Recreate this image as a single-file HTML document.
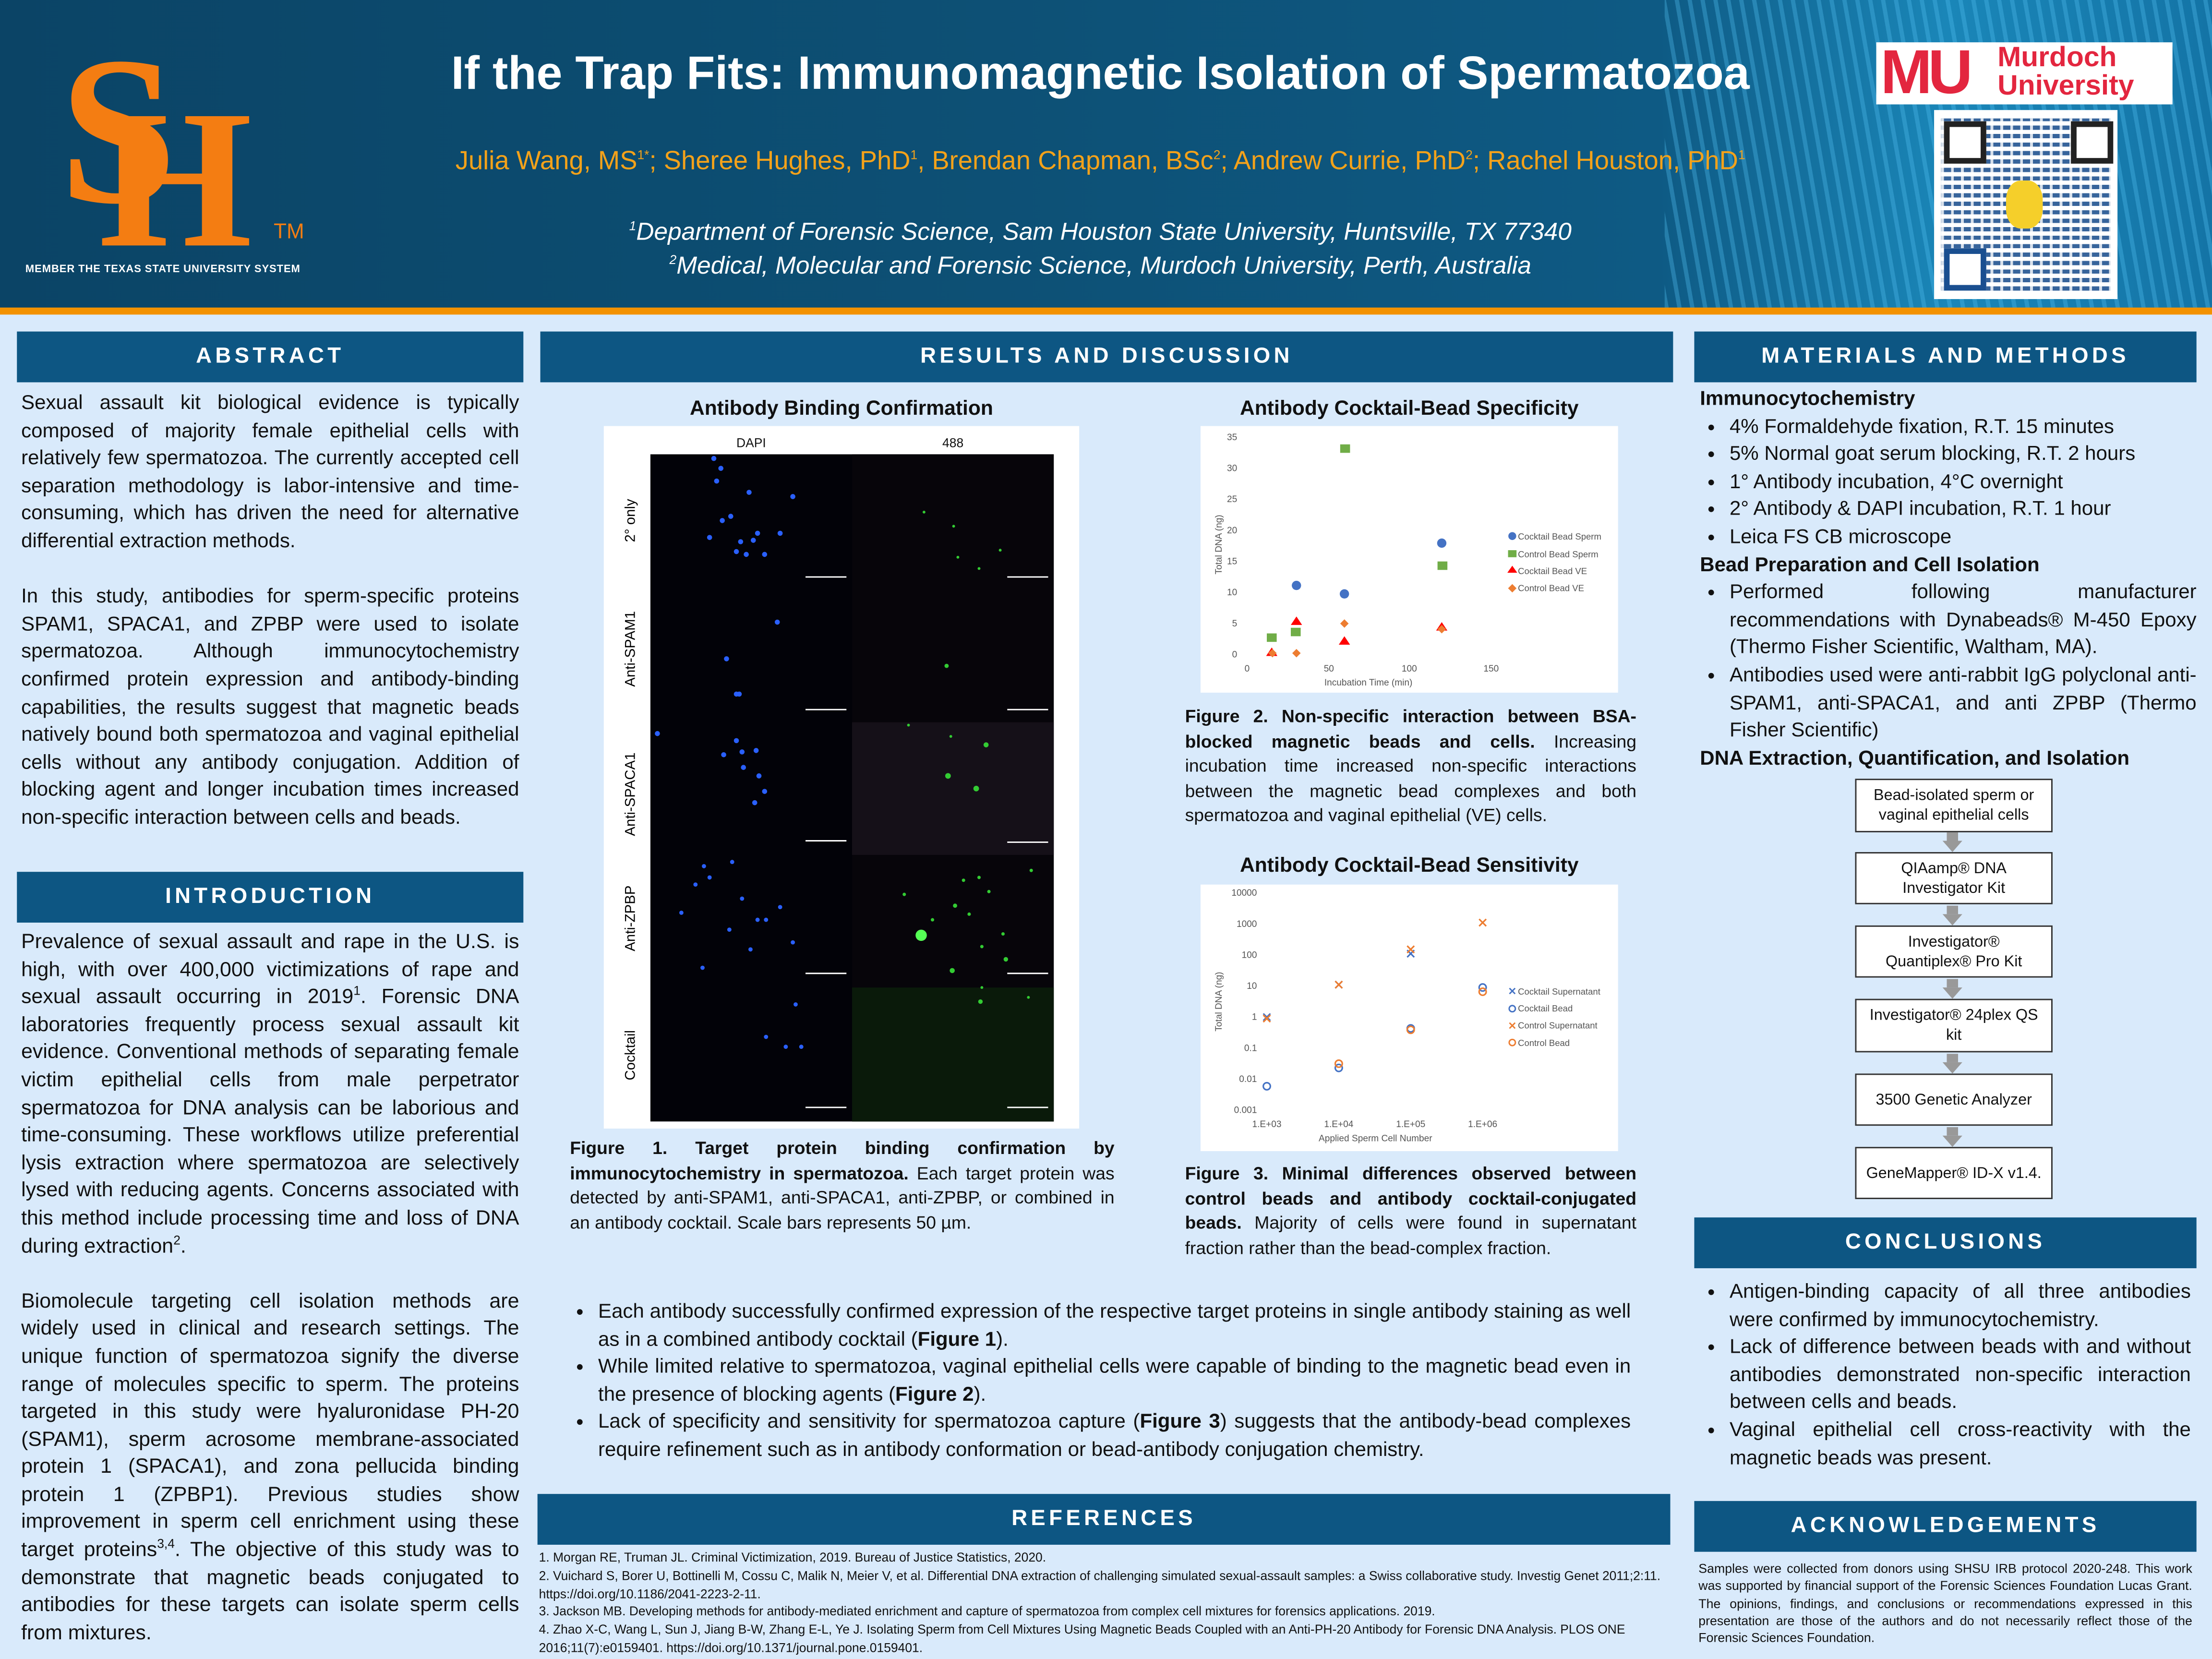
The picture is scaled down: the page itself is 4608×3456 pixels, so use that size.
<!DOCTYPE html>
<html><head><meta charset="utf-8">
<style>
html,body{margin:0;padding:0;width:4608px;height:3456px;overflow:hidden;background:#d9eafb}
#s{position:absolute;left:0;top:0;width:1568px;height:1176px;transform:scale(2.938776);transform-origin:0 0;font-family:"Liberation Sans",sans-serif;color:#111;background:#d9eafb}
.a{position:absolute}
.hd{position:absolute;background:#0d5683;color:#fff;font-weight:bold;font-size:15.5px;letter-spacing:2.5px;text-align:center;line-height:36px;height:36px}
.tx{position:absolute;font-size:14.3px;line-height:19.6px;text-align:justify}
.tx p{margin:0}
sup{font-size:9px;line-height:0}
ul{margin:0;padding-left:21px}
li{margin:0}
.fb{position:absolute;left:1315px;width:138px;border:1px solid #333;background:#fff;font-size:11px;text-align:center;line-height:14px;display:flex;align-items:center;justify-content:center}
.ar{position:absolute;left:1377px;width:0;height:0;border-left:7px solid transparent;border-right:7px solid transparent;border-top:8px solid #999}
.ar:before{content:"";position:absolute;left:-4px;top:-14px;width:8px;height:6px;background:#999}
</style></head><body><div id="s">
<div class="a" style="left:0;top:0;width:1568px;height:219px;background:linear-gradient(90deg,#0b4466 0%,#0d5075 45%,#0e5a84 75%,#1a86b8 88%,#1474a6 100%)"></div>
<div class="a" style="left:1180px;top:0;width:388px;height:219px;background:repeating-linear-gradient(80deg,rgba(80,190,240,.35) 0 3px,rgba(0,0,0,0) 3px 9px)"></div>
<div class="a" style="left:0;top:218px;width:1568px;height:5px;background:#f39200"></div>
<div class="a" style="left:42px;top:18px;font-family:'Liberation Serif',serif;font-size:150px;line-height:150px;color:#f47d12;font-weight:bold">S</div>
<div class="a" style="left:70px;top:58px;font-family:'Liberation Serif',serif;font-size:140px;line-height:140px;color:#f47d12;font-weight:bold">H</div>
<div class="a" style="left:194px;top:156px;color:#f47d12;font-size:15px">TM</div>
<div class="a" style="left:18px;top:186px;color:#fff;font-size:7.5px;font-weight:bold;letter-spacing:.3px">MEMBER THE TEXAS STATE UNIVERSITY SYSTEM</div>
<div class="a" style="left:260px;top:30px;width:1040px;text-align:center;color:#fff;font-weight:bold;font-size:33px;line-height:44px">If the Trap Fits: Immunomagnetic Isolation of Spermatozoa</div>
<div class="a" style="left:260px;top:101px;width:1040px;text-align:center;color:#f4a21a;font-size:18.5px;line-height:26px">Julia Wang, MS<sup>1*</sup>; Sheree Hughes, PhD<sup>1</sup>, Brendan Chapman, BSc<sup>2</sup>; Andrew Currie, PhD<sup>2</sup>; Rachel Houston, PhD<sup>1</sup></div>
<div class="a" style="left:260px;top:152px;width:1040px;text-align:center;color:#fff;font-style:italic;font-size:17.5px;line-height:24px"><sup>1</sup>Department of Forensic Science, Sam Houston State University, Huntsville, TX 77340<br><sup>2</sup>Medical, Molecular and Forensic Science, Murdoch University, Perth, Australia</div>
<div class="a" style="left:1330px;top:30px;width:210px;height:44px;background:#fff"></div>
<div class="a" style="left:1333px;top:28px;color:#e3263f;font-weight:bold;font-size:44px;line-height:48px;letter-spacing:-3px">MU</div>
<div class="a" style="left:1416px;top:31px;color:#e3263f;font-weight:bold;font-size:20px;line-height:20px">Murdoch<br>University</div>
<div class="a" style="left:1371px;top:78px;width:130px;height:134px;background:#fff"></div>
<div class="a" style="left:1376px;top:84px;width:120px;height:122px;background:repeating-linear-gradient(0deg,#154a8a 0 3px,#fff 3px 6px),#154a8a;opacity:.85"></div>
<div class="a" style="left:1376px;top:84px;width:120px;height:122px;background:repeating-linear-gradient(90deg,rgba(255,255,255,.8) 0 2px,transparent 2px 7px)"></div>
<div class="a" style="left:1378px;top:86px;width:22px;height:22px;border:4px solid #222;background:#fff"></div>
<div class="a" style="left:1468px;top:86px;width:22px;height:22px;border:4px solid #222;background:#fff"></div>
<div class="a" style="left:1378px;top:176px;width:22px;height:22px;border:4px solid #1a4f90;background:#fff"></div>
<div class="a" style="left:1422px;top:128px;width:26px;height:34px;background:#f5cf2a;border-radius:40%"></div>

<div class="hd" style="left:12px;top:235px;width:359px">ABSTRACT</div>
<div class="tx" style="left:15px;top:277px;width:353px">
<p>Sexual assault kit biological evidence is typically composed of majority female epithelial cells with relatively few spermatozoa. The currently accepted cell separation methodology is labor-intensive and time-consuming, which has driven the need for alternative differential extraction methods.</p><p>&nbsp;</p>
<p>In this study, antibodies for sperm-specific proteins SPAM1, SPACA1, and ZPBP were used to isolate spermatozoa. Although immunocytochemistry confirmed protein expression and antibody-binding capabilities, the results suggest that magnetic beads natively bound both spermatozoa and vaginal epithelial cells without any antibody conjugation. Addition of blocking agent and longer incubation times increased non-specific interaction between cells and beads.</p></div>
<div class="hd" style="left:12px;top:618px;width:359px">INTRODUCTION</div>
<div class="tx" style="left:15px;top:659px;width:353px;font-size:14.6px">
<p>Prevalence of sexual assault and rape in the U.S. is high, with over 400,000 victimizations of rape and sexual assault occurring in 2019<sup>1</sup>. Forensic DNA laboratories frequently process sexual assault kit evidence. Conventional methods of separating female victim epithelial cells from male perpetrator spermatozoa for DNA analysis can be laborious and time-consuming. These workflows utilize preferential lysis extraction where spermatozoa are selectively lysed with reducing agents. Concerns associated with this method include processing time and loss of DNA during extraction<sup>2</sup>.</p><p>&nbsp;</p>
<p>Biomolecule targeting cell isolation methods are widely used in clinical and research settings. The unique function of spermatozoa signify the diverse range of molecules specific to sperm. The proteins targeted in this study were hyaluronidase PH-20 (SPAM1), sperm acrosome membrane-associated protein 1 (SPACA1), and zona pellucida binding protein 1 (ZPBP1). Previous studies show improvement in sperm cell enrichment using these target proteins<sup>3,4</sup>. The objective of this study was to demonstrate that magnetic beads conjugated to antibodies for these targets can isolate sperm cells from mixtures.</p></div>

<div class="hd" style="left:383px;top:235px;width:803px">RESULTS AND DISCUSSION</div>
<div class="a" style="left:428px;top:282px;width:337px;text-align:center;font-weight:bold;font-size:14.5px">Antibody Binding Confirmation</div>
<div class="a" style="left:428px;top:302px;width:337px;height:498px;background:#fff"></div>
<div class="a" style="left:461px;top:309px;width:143px;text-align:center;font-size:9px">DAPI</div>
<div class="a" style="left:604px;top:309px;width:143px;text-align:center;font-size:9px">488</div>
<svg class="a" style="left:461px;top:322px" width="286" height="473" viewBox="0 0 286 473">
<rect width="286" height="473" fill="#020208"/>
<rect x="143" width="143" height="473" fill="#07050a"/>
<rect x="143" y="190" width="143" height="94" fill="#151018"/>
<rect x="143" y="378" width="143" height="95" fill="#0a1a0a"/>
<g fill="#2a60ff">
<circle cx="45" cy="3" r="1.8"/><circle cx="50" cy="10" r="1.8"/><circle cx="47" cy="19" r="1.8"/><circle cx="70" cy="27" r="1.8"/><circle cx="101" cy="30" r="1.8"/><circle cx="51" cy="47" r="1.8"/><circle cx="57" cy="44" r="1.8"/><circle cx="42" cy="59" r="1.8"/><circle cx="76" cy="56" r="1.8"/><circle cx="92" cy="56" r="1.8"/><circle cx="61" cy="69" r="1.8"/><circle cx="64" cy="62" r="1.8"/><circle cx="68" cy="71" r="1.8"/><circle cx="73" cy="61" r="1.8"/><circle cx="81" cy="71" r="1.8"/>
<circle cx="90" cy="119" r="1.8"/><circle cx="54" cy="145" r="1.8"/><circle cx="63" cy="170" r="1.8"/><circle cx="61" cy="170" r="1.8"/>
<circle cx="5" cy="198" r="1.8"/><circle cx="61" cy="203" r="1.8"/><circle cx="65" cy="211" r="1.8"/><circle cx="52" cy="213" r="1.8"/><circle cx="66" cy="222" r="1.8"/><circle cx="77" cy="228" r="1.8"/><circle cx="81" cy="239" r="1.8"/><circle cx="74" cy="247" r="1.8"/><circle cx="75" cy="210" r="1.8"/>
<circle cx="38" cy="292" r="1.5"/><circle cx="42" cy="300" r="1.5"/><circle cx="65" cy="315" r="1.5"/><circle cx="56" cy="337" r="1.5"/><circle cx="92" cy="321" r="1.5"/><circle cx="82" cy="330" r="1.5"/><circle cx="22" cy="325" r="1.5"/><circle cx="71" cy="351" r="1.5"/><circle cx="101" cy="346" r="1.5"/><circle cx="37" cy="364" r="1.5"/><circle cx="76" cy="330" r="1.5"/><circle cx="58" cy="289" r="1.5"/><circle cx="32" cy="305" r="1.5"/>
<circle cx="103" cy="390" r="1.5"/><circle cx="82" cy="413" r="1.5"/><circle cx="96" cy="420" r="1.5"/><circle cx="107" cy="420" r="1.5"/>
</g>
<g fill="#3c3">
<circle cx="233" cy="81" r="1"/><circle cx="218" cy="73" r="1"/><circle cx="248" cy="68" r="1"/><circle cx="215" cy="51" r="1"/><circle cx="194" cy="41" r="1"/>
<circle cx="210" cy="150" r="1.5"/><circle cx="238" cy="206" r="1.8"/><circle cx="211" cy="228" r="2"/><circle cx="231" cy="237" r="2"/><circle cx="183" cy="192" r="1"/><circle cx="213" cy="200" r="1"/>
<circle cx="180" cy="312" r="1.2"/><circle cx="222" cy="302" r="1.2"/><circle cx="216" cy="320" r="1.5"/><circle cx="240" cy="310" r="1.2"/><circle cx="200" cy="330" r="1.2"/><circle cx="250" cy="340" r="1.2"/><circle cx="235" cy="349" r="1.2"/><circle cx="270" cy="295" r="1.2"/><circle cx="226" cy="326" r="1.2"/><circle cx="233" cy="300" r="1.2"/>
<circle cx="192" cy="341" r="4" fill="#5f5"/><circle cx="252" cy="358" r="1.6"/><circle cx="234" cy="388" r="1.6"/><circle cx="214" cy="366" r="1.8"/><circle cx="235" cy="378" r="1"/><circle cx="268" cy="385" r="1"/>
</g>
<g stroke="#fff" stroke-width="1"><line x1="110" y1="87" x2="139" y2="87"/><line x1="253" y1="87" x2="282" y2="87"/><line x1="110" y1="181" x2="139" y2="181"/><line x1="253" y1="181" x2="282" y2="181"/><line x1="110" y1="274" x2="139" y2="274"/><line x1="253" y1="275" x2="282" y2="275"/><line x1="110" y1="368" x2="139" y2="368"/><line x1="253" y1="368" x2="282" y2="368"/><line x1="110" y1="463" x2="139" y2="463"/><line x1="253" y1="463" x2="282" y2="463"/></g>
</svg>
<svg class="a" style="left:428px;top:322px" width="33" height="473"><g font-family="Liberation Sans" font-size="10" text-anchor="middle"><text transform="translate(22,47) rotate(-90)">2° only</text><text transform="translate(22,138) rotate(-90)">Anti-SPAM1</text><text transform="translate(22,241) rotate(-90)">Anti-SPACA1</text><text transform="translate(22,329) rotate(-90)">Anti-ZPBP</text><text transform="translate(22,426) rotate(-90)">Cocktail</text></g></svg>
<div class="tx" style="left:404px;top:806px;width:386px;font-size:12.7px;line-height:17.5px"><b>Figure 1. Target protein binding confirmation by immunocytochemistry in spermatozoa.</b> Each target protein was detected by anti-SPAM1, anti-SPACA1, anti-ZPBP, or combined in an antibody cocktail. Scale bars represents 50 µm.</div>

<div class="a" style="left:851px;top:282px;width:296px;text-align:center;font-weight:bold;font-size:14.5px">Antibody Cocktail-Bead Specificity</div>
<svg class="a" style="left:851px;top:302px" width="296" height="189" viewBox="851 302 296 189">
<rect x="851" y="302" width="296" height="189" fill="#fff"/>
<g font-family="Liberation Sans" font-size="6.5" fill="#555" text-anchor="end">
<text x="877" y="312">35</text><text x="877" y="334">30</text><text x="877" y="356">25</text><text x="877" y="378">20</text><text x="877" y="400">15</text><text x="877" y="422">10</text><text x="877" y="444">5</text><text x="877" y="466">0</text></g>
<g font-family="Liberation Sans" font-size="6.5" fill="#555" text-anchor="middle"><text x="884" y="476">0</text><text x="942" y="476">50</text><text x="999" y="476">100</text><text x="1057" y="476">150</text><text x="970" y="486">Incubation Time (min)</text></g>
<text transform="translate(866,386) rotate(-90)" font-family="Liberation Sans" font-size="6.5" fill="#555" text-anchor="middle">Total DNA (ng)</text>
<g fill="#4472c4"><circle cx="919" cy="415" r="3.3"/><circle cx="953" cy="421" r="3.3"/><circle cx="1022" cy="385" r="3.3"/></g>
<g fill="#70ad47"><rect x="898" y="449" width="7" height="6"/><rect x="915" y="445" width="7" height="6"/><rect x="950" y="315" width="7" height="6"/><rect x="1019" y="398" width="7" height="6"/></g>
<g fill="#f00"><path d="M901.5 459l4 6h-8z"/><path d="M919 437l4 6h-8z"/><path d="M953 451l4 6h-8z"/><path d="M1022 441l4 6h-8z"/></g>
<g fill="#ed7d31"><path d="M902 460l3 3-3 3-3-3z"/><path d="M919 460l3 3-3 3-3-3z"/><path d="M953 439l3 3-3 3-3-3z"/><path d="M1022 443l3 3-3 3-3-3z"/></g>
<g font-family="Liberation Sans" font-size="6.3" fill="#555"><circle cx="1072" cy="380" r="2.8" fill="#4472c4"/><text x="1076" y="382.5">Cocktail Bead Sperm</text><rect x="1069" y="390" width="6" height="5" fill="#70ad47"/><text x="1076" y="395">Control Bead Sperm</text><path d="M1072 401l3.5 5h-7z" fill="#f00"/><text x="1076" y="407">Cocktail Bead VE</text><path d="M1072 414l3 3-3 3-3-3z" fill="#ed7d31"/><text x="1076" y="419">Control Bead VE</text></g>
</svg>
<div class="tx" style="left:840px;top:500px;width:320px;font-size:12.7px;line-height:17.5px"><b>Figure 2. Non-specific interaction between BSA-blocked magnetic beads and cells.</b> Increasing incubation time increased non-specific interactions between the magnetic bead complexes and both spermatozoa and vaginal epithelial (VE) cells.</div>

<div class="a" style="left:851px;top:606px;width:296px;text-align:center;font-weight:bold;font-size:14.5px">Antibody Cocktail-Bead Sensitivity</div>
<svg class="a" style="left:851px;top:627px" width="296" height="189" viewBox="851 627 296 189">
<rect x="851" y="627" width="296" height="189" fill="#fff"/>
<g font-family="Liberation Sans" font-size="6.5" fill="#555" text-anchor="end">
<text x="891" y="635">10000</text><text x="891" y="657">1000</text><text x="891" y="679">100</text><text x="891" y="701">10</text><text x="891" y="723">1</text><text x="891" y="745">0.1</text><text x="891" y="767">0.01</text><text x="891" y="789">0.001</text></g>
<g font-family="Liberation Sans" font-size="6.5" fill="#555" text-anchor="middle"><text x="898" y="799">1.E+03</text><text x="949" y="799">1.E+04</text><text x="1000" y="799">1.E+05</text><text x="1051" y="799">1.E+06</text><text x="975" y="809">Applied Sperm Cell Number</text></g>
<text transform="translate(866,710) rotate(-90)" font-family="Liberation Sans" font-size="6.5" fill="#555" text-anchor="middle">Total DNA (ng)</text>
<g stroke-width="1.1" fill="none">
<g stroke="#4472c4"><path d="M895.5 718.5l5 5m0-5l-5 5"/><path d="M946.5 695.5l5 5m0-5l-5 5"/><path d="M997.5 673.5l5 5m0-5l-5 5"/><circle cx="898" cy="770" r="2.5"/><circle cx="949" cy="757" r="2.5"/><circle cx="1000" cy="729" r="2.5"/><circle cx="1051" cy="700" r="2.5"/></g>
<g stroke="#ed7d31"><path d="M895.5 719.5l5 5m0-5l-5 5"/><path d="M946.5 695.5l5 5m0-5l-5 5"/><path d="M997.5 670.5l5 5m0-5l-5 5"/><path d="M1048.5 651.5l5 5m0-5l-5 5"/><circle cx="949" cy="754" r="2.5"/><circle cx="1000" cy="730" r="2.5"/><circle cx="1051" cy="703" r="2.5"/></g>
</g>
<g font-family="Liberation Sans" font-size="6.3" fill="#555"><path d="M1070 700.5l4 4m0-4l-4 4" stroke="#4472c4" fill="none"/><text x="1076" y="705">Cocktail Supernatant</text><circle cx="1072" cy="715" r="2.2" stroke="#4472c4" fill="none"/><text x="1076" y="717">Cocktail Bead</text><path d="M1070 725l4 4m0-4l-4 4" stroke="#ed7d31" fill="none"/><text x="1076" y="729">Control Supernatant</text><circle cx="1072" cy="739" r="2.2" stroke="#ed7d31" fill="none"/><text x="1076" y="741.5">Control Bead</text></g>
</svg>
<div class="tx" style="left:840px;top:824px;width:320px;font-size:12.7px;line-height:17.5px"><b>Figure 3. Minimal differences observed between control beads and antibody cocktail-conjugated beads.</b> Majority of cells were found in supernatant fraction rather than the bead-complex fraction.</div>

<div class="tx" style="left:403px;top:921px;width:753px">
<ul><li>Each antibody successfully confirmed expression of the respective target proteins in single antibody staining as well as in a combined antibody cocktail (<b>Figure 1</b>).</li>
<li>While limited relative to spermatozoa, vaginal epithelial cells were capable of binding to the magnetic bead even in the presence of blocking agents (<b>Figure 2</b>).</li>
<li>Lack of specificity and sensitivity for spermatozoa capture (<b>Figure 3</b>) suggests that the antibody-bead complexes require refinement such as in antibody conformation or bead-antibody conjugation chemistry.</li></ul></div>

<div class="hd" style="left:381px;top:1059px;width:803px">REFERENCES</div>
<div class="a" style="left:382px;top:1098px;width:800px;font-size:9px;line-height:12.8px">1. Morgan RE, Truman JL.  Criminal Victimization, 2019. Bureau of Justice Statistics, 2020.<br>2. Vuichard S, Borer U, Bottinelli M, Cossu C, Malik N, Meier V, et al.  Differential DNA extraction of challenging simulated sexual-assault samples: a Swiss collaborative study. Investig Genet 2011;2:11. https://doi.org/10.1186/2041-2223-2-11.<br>3. Jackson MB.  Developing methods for antibody-mediated enrichment and capture of spermatozoa from complex cell mixtures for forensics applications. 2019.<br>4. Zhao X-C, Wang L, Sun J, Jiang B-W, Zhang E-L, Ye J.  Isolating Sperm from Cell Mixtures Using Magnetic Beads Coupled with an Anti-PH-20 Antibody for Forensic DNA Analysis. PLOS ONE 2016;11(7):e0159401. https://doi.org/10.1371/journal.pone.0159401.</div>

<div class="hd" style="left:1201px;top:235px;width:356px">MATERIALS AND METHODS</div>
<div class="tx" style="left:1205px;top:274px;width:352px;text-align:left">
<b>Immunocytochemistry</b>
<ul><li>4% Formaldehyde fixation, R.T. 15 minutes</li><li>5% Normal goat serum blocking, R.T. 2 hours</li><li>1° Antibody incubation, 4°C overnight</li><li>2° Antibody &amp; DAPI incubation, R.T. 1 hour</li><li>Leica FS CB microscope</li></ul>
<b>Bead Preparation and Cell Isolation</b>
<ul style="text-align:justify"><li>Performed following manufacturer recommendations with Dynabeads® M-450 Epoxy (Thermo Fisher Scientific, Waltham, MA).</li><li>Antibodies used were anti-rabbit IgG polyclonal anti-SPAM1, anti-SPACA1, and anti ZPBP (Thermo Fisher Scientific)</li></ul>
<b>DNA Extraction, Quantification, and Isolation</b></div>
<div class="fb" style="top:552px;height:36px">Bead-isolated sperm or<br>vaginal epithelial cells</div>
<div class="ar" style="top:596px"></div>
<div class="fb" style="top:604px;height:35px">QIAamp® DNA<br>Investigator Kit</div>
<div class="ar" style="top:648px"></div>
<div class="fb" style="top:656px;height:35px">Investigator®<br>Quantiplex® Pro Kit</div>
<div class="ar" style="top:700px"></div>
<div class="fb" style="top:708px;height:36px">Investigator® 24plex QS<br>kit</div>
<div class="ar" style="top:753px"></div>
<div class="fb" style="top:761px;height:35px">3500 Genetic Analyzer</div>
<div class="ar" style="top:805px"></div>
<div class="fb" style="top:813px;height:35px">GeneMapper® ID-X v1.4.</div>

<div class="hd" style="left:1201px;top:863px;width:356px">CONCLUSIONS</div>
<div class="tx" style="left:1205px;top:907px;width:348px"><ul><li>Antigen-binding capacity of all three antibodies were confirmed by immunocytochemistry.</li><li>Lack of difference between beads with and without antibodies demonstrated non-specific interaction between cells and beads.</li><li>Vaginal epithelial cell cross-reactivity with the magnetic beads was present.</li></ul></div>
<div class="hd" style="left:1201px;top:1064px;width:356px">ACKNOWLEDGEMENTS</div>
<div class="a" style="left:1204px;top:1106px;width:350px;font-size:9.1px;line-height:12.3px;text-align:justify">Samples were collected from donors using SHSU IRB protocol 2020-248. This work was supported by financial support of the Forensic Sciences Foundation Lucas Grant. The opinions, findings, and conclusions or recommendations expressed in this presentation are those of the authors and do not necessarily reflect those of the Forensic Sciences Foundation.</div>
</div></body></html>
